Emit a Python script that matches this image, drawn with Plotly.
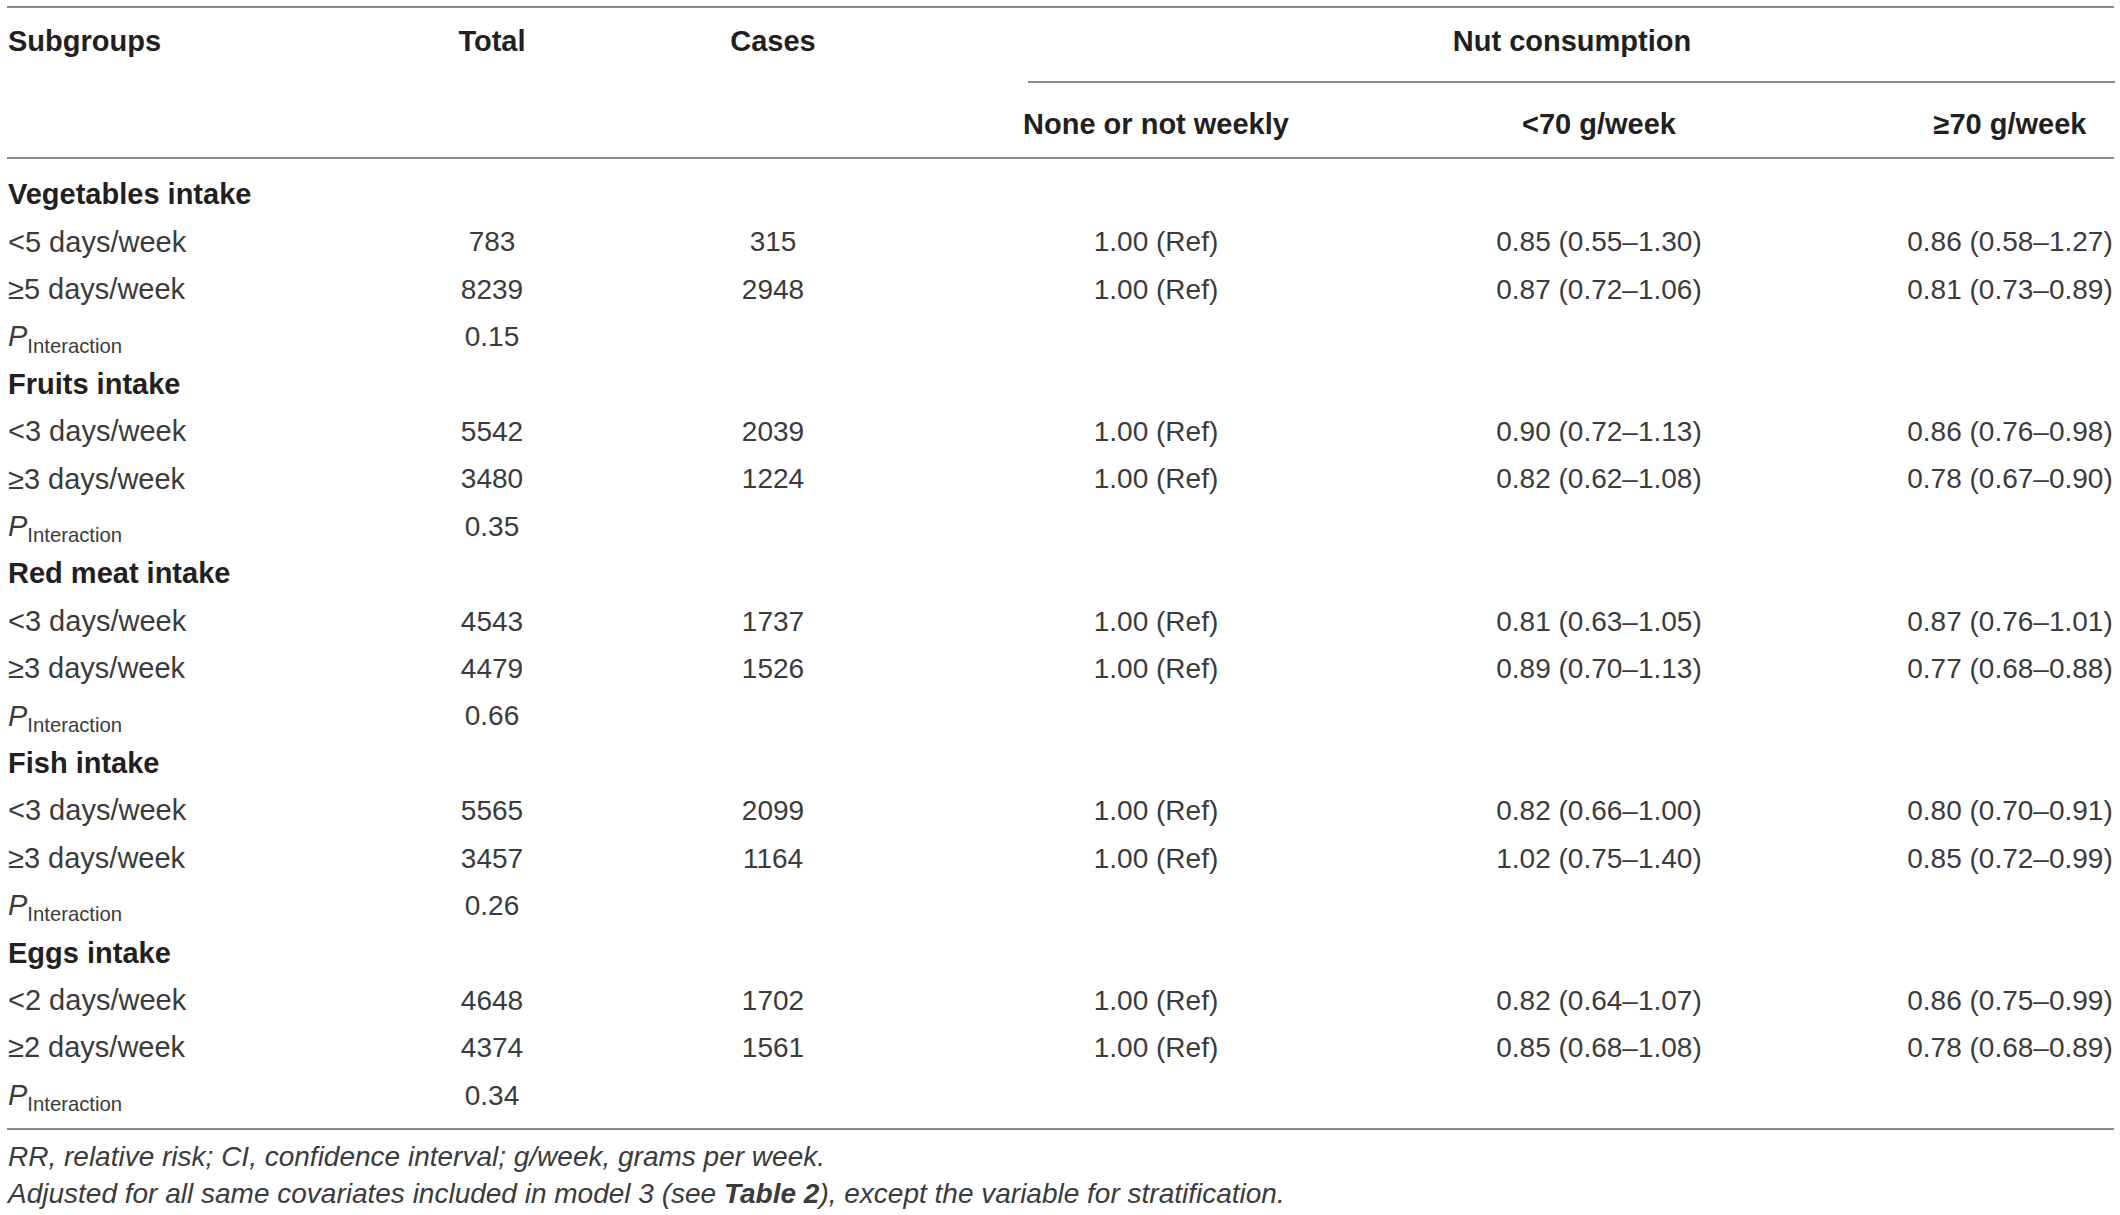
import plotly.graph_objects as go

# ---------------- data ----------------
col_headers = ["Subgroups", "Total", "Cases"]
span_header = "Nut consumption"
sub_headers = ["None or not weekly", "<70 g/week", "≥70 g/week"]

groups = ["Vegetables intake", "Fruits intake", "Red meat intake", "Fish intake", "Eggs intake"]
levels = [
    ["<5 days/week", "≥5 days/week"],
    ["<3 days/week", "≥3 days/week"],
    ["<3 days/week", "≥3 days/week"],
    ["<3 days/week", "≥3 days/week"],
    ["<2 days/week", "≥2 days/week"],
]
totals = [[783, 8239], [5542, 3480], [4543, 4479], [5565, 3457], [4648, 4374]]
cases = [[315, 2948], [2039, 1224], [1737, 1526], [2099, 1164], [1702, 1561]]
ref_vals = ["1.00 (Ref)"] * 2
low_vals = [
    ["0.85 (0.55–1.30)", "0.87 (0.72–1.06)"],
    ["0.90 (0.72–1.13)", "0.82 (0.62–1.08)"],
    ["0.81 (0.63–1.05)", "0.89 (0.70–1.13)"],
    ["0.82 (0.66–1.00)", "1.02 (0.75–1.40)"],
    ["0.82 (0.64–1.07)", "0.85 (0.68–1.08)"],
]
high_vals = [
    ["0.86 (0.58–1.27)", "0.81 (0.73–0.89)"],
    ["0.86 (0.76–0.98)", "0.78 (0.67–0.90)"],
    ["0.87 (0.76–1.01)", "0.77 (0.68–0.88)"],
    ["0.80 (0.70–0.91)", "0.85 (0.72–0.99)"],
    ["0.86 (0.75–0.99)", "0.78 (0.68–0.89)"],
]
p_interaction = ["0.15", "0.35", "0.66", "0.26", "0.34"]
footnotes = [
    "<i>RR, relative risk; CI, confidence interval; g/week, grams per week.</i>",
    "<i>Adjusted for all same covariates included in model 3 (see <b>Table 2</b>), except the variable for stratification.</i>",
]

# ---------------- layout constants ----------------
W, H = 2120, 1215
X_LEFT = 8
X_COLS = [492, 773, 1156, 1599, 2010]   # centers: Total, Cases, None, <70, >=70
X_SPAN = (1028, 2115)
Y_H1, Y_H2 = 44, 127
Y_ROW0, ROW_H = 197, 47.4
Y_LINES = [7, 158, 1129]
Y_SPAN_LINE = 82
Y_FOOT = [1159, 1196]
FONT = "Liberation Sans, Arial, Helvetica, sans-serif"
FS = 28
FS_BOLD = 29
FS_LABEL = 29
BODY_COLOR = "#3b3b3b"
HEAD_COLOR = "#231f20"
LINE_COLOR = "#8a8a8a"

fig = go.Figure()

def add_text(xs, ys, texts, pos, size=FS, color=BODY_COLOR):
    fig.add_trace(go.Scatter(
        x=xs, y=ys, text=texts, mode="text", textposition=pos,
        textfont=dict(family=FONT, size=size, color=color),
        hoverinfo="skip", showlegend=False, cliponaxis=False))

# headers
add_text([X_LEFT], [Y_H1], ["<b>" + col_headers[0] + "</b>"], "middle right", size=FS_BOLD, color=HEAD_COLOR)
add_text(X_COLS[:2], [Y_H1, Y_H1], ["<b>" + h + "</b>" for h in col_headers[1:]], "middle center",
         size=FS_BOLD, color=HEAD_COLOR)
add_text([(X_SPAN[0] + X_SPAN[1]) / 2 + 0.5], [Y_H1], ["<b>" + span_header + "</b>"], "middle center",
         size=FS_BOLD, color=HEAD_COLOR)
add_text(X_COLS[2:], [Y_H2] * 3, ["<b>" + h.replace("<", "&lt;") + "</b>" for h in sub_headers],
         "middle center", size=FS_BOLD, color=HEAD_COLOR)

# body rows
left_x, left_y, left_t = [], [], []
cols_x, cols_y, cols_t = [], [], []
r = 0
for gi, g in enumerate(groups):
    left_x.append(X_LEFT); left_y.append(Y_ROW0 + r * ROW_H); left_t.append("<b>" + g + "</b>")
    r += 1
    for li in range(2):
        y = Y_ROW0 + r * ROW_H
        left_x.append(X_LEFT); left_y.append(y); left_t.append(levels[gi][li].replace("<", "&lt;"))
        vals = [str(totals[gi][li]), str(cases[gi][li]), ref_vals[li], low_vals[gi][li], high_vals[gi][li]]
        for cx, v in zip(X_COLS, vals):
            cols_x.append(cx); cols_y.append(y); cols_t.append(v)
        r += 1
    y = Y_ROW0 + r * ROW_H
    left_x.append(X_LEFT); left_y.append(y); left_t.append("<i>P</i><sub>Interaction</sub>")
    cols_x.append(X_COLS[0]); cols_y.append(y); cols_t.append(p_interaction[gi])
    r += 1

bold_idx = [i for i, t in enumerate(left_t) if t.startswith("<b>")]
add_text([left_x[i] for i in bold_idx], [left_y[i] for i in bold_idx], [left_t[i] for i in bold_idx],
         "middle right", size=FS_BOLD, color=HEAD_COLOR)
other_idx = [i for i in range(len(left_t)) if i not in bold_idx]
add_text([left_x[i] for i in other_idx], [left_y[i] for i in other_idx], [left_t[i] for i in other_idx],
         "middle right", size=FS_LABEL)
add_text(cols_x, cols_y, cols_t, "middle center")

# footnotes
add_text([X_LEFT] * 2, Y_FOOT, footnotes, "middle right", size=28)

# rules
for yl in Y_LINES:
    fig.add_shape(type="line", x0=7, x1=2114, y0=yl, y1=yl, xref="x", yref="y",
                  line=dict(color=LINE_COLOR, width=2))
fig.add_shape(type="line", x0=X_SPAN[0], x1=X_SPAN[1], y0=Y_SPAN_LINE, y1=Y_SPAN_LINE,
              xref="x", yref="y", line=dict(color=LINE_COLOR, width=2))

fig.update_layout(
    width=W, height=H, margin=dict(l=0, r=0, t=0, b=0),
    paper_bgcolor="white", plot_bgcolor="white",
    xaxis=dict(range=[0, W], visible=False, fixedrange=True),
    yaxis=dict(range=[H, 0], visible=False, fixedrange=True),
)
fig.write_html("out.html", config={"displayModeBar": False},
               post_script="document.body.style.margin='0';document.body.style.overflow='hidden';")
